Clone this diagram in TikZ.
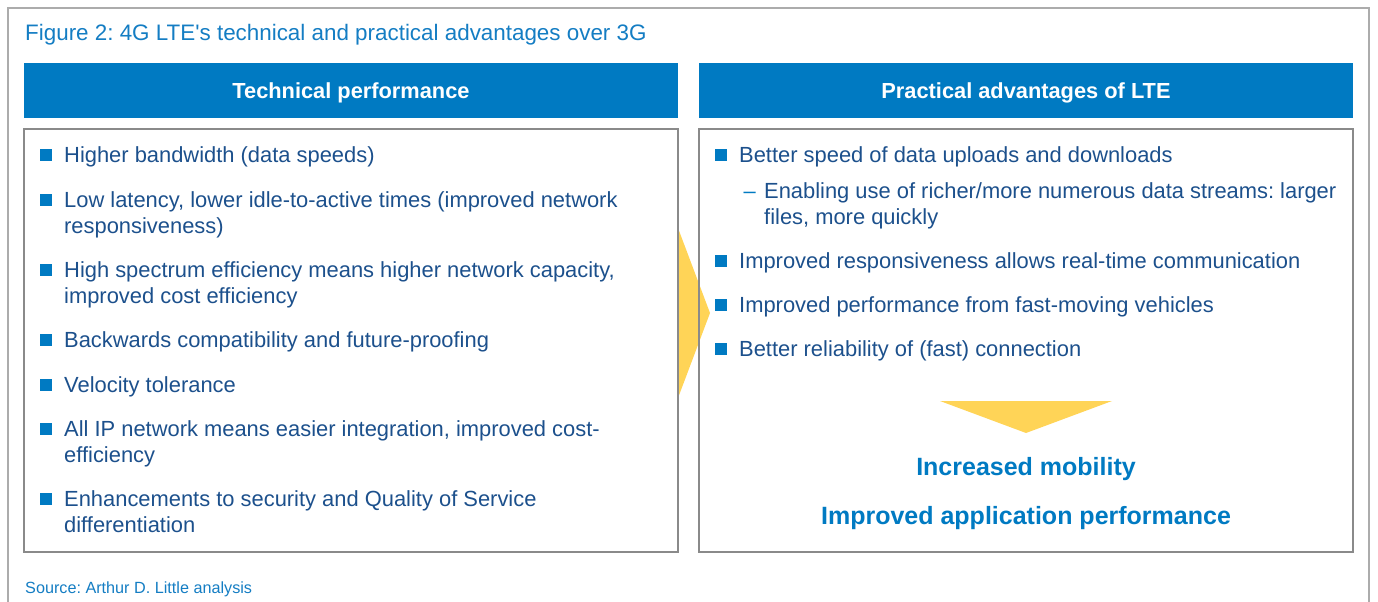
\documentclass[tikz,border=0pt]{standalone}
\usepackage{fontspec}
\setmainfont{Liberation Sans}
\newfontfamily\adlfont{Liberation Sans}
\usetikzlibrary{positioning}
\definecolor{adlblue}{RGB}{0,122,194}
\definecolor{titleblue}{RGB}{20,125,195}
\definecolor{adltext}{RGB}{28,80,140}
\definecolor{adlyellow}{RGB}{255,212,87}
\definecolor{framegray}{RGB}{172,172,172}
\definecolor{boxgray}{RGB}{138,138,138}
\tikzset{
  header/.style={fill=adlblue, text=white, inner sep=0pt, minimum width=654pt, minimum height=55pt,
    text height=15.5pt, text depth=0pt, font=\adlfont\fontsize{21.8}{24}\selectfont\bfseries},
  panel/.style={draw=boxgray, line width=1.6pt, minimum width=654pt, minimum height=423pt, inner sep=0pt},
  item/.style={anchor=north west, inner sep=0pt, text=adltext, align=left,
    font=\adlfont\fontsize{21.9}{26}\selectfont},
  bullet/.style={fill=adlblue, inner sep=0pt, minimum size=11.5pt},
  result/.style={anchor=base, text=adlblue, inner sep=0pt, font=\adlfont\fontsize{25}{28}\selectfont\bfseries},
}
\begin{document}
\frenchspacing
\begin{tikzpicture}[x=1pt,y=-1pt]
  \useasboundingbox (0,0) rectangle (1378,602);
  % outer frame
  \draw[framegray, line width=2.6pt] (8,602) -- (8,8) -- (1369,8) -- (1369,602);

  \node[anchor=base west, inner sep=0pt, text=titleblue, font=\adlfont\fontsize{22.4}{24}\selectfont] (title) at (25,41)
    {Figure 2: 4G LTE's technical and practical advantages over 3G};

  % arrows
  \fill[adlyellow] (678,228) -- (710,313) -- (678,398) -- cycle;
  \fill[adlyellow] (940,401) -- (1112,401) -- (1026,433) -- cycle;

  % headers and panels
  \node[header] (lhead) at (351,90.5) {Technical performance};
  \node[header] (rhead) at (1026,90.5) {Practical advantages of LTE};
  \node[panel] (lbox) at (351,340.5) {};
  \node[panel] (rbox) at (1026,340.5) {};

  % technical performance
  \node[item] (l1) at (64,143.8) {\strut Higher bandwidth (data speeds)};
  \node[item] (l2) at (64,188.8) {\strut Low latency, lower idle-to-active times (improved network\\responsiveness)};
  \node[item] (l3) at (64,258.8) {\strut High spectrum efficiency means higher network capacity,\\improved cost efficiency};
  \node[item] (l4) at (64,328.8) {\strut Backwards compatibility and future-proofing};
  \node[item] (l5) at (64,373.8) {\strut Velocity tolerance};
  \node[item] (l6) at (64,417.8) {\strut All IP network means easier integration, improved cost-\\efficiency};
  \node[item] (l7) at (64,487.8) {\strut Enhancements to security and Quality of Service\\differentiation};

  \node[bullet] (bl1) at ([xshift=-18pt,yshift=-11.2pt]l1.north west) {};
  \node[bullet] (bl2) at ([xshift=-18pt,yshift=-11.2pt]l2.north west) {};
  \node[bullet] (bl3) at ([xshift=-18pt,yshift=-11.2pt]l3.north west) {};
  \node[bullet] (bl4) at ([xshift=-18pt,yshift=-11.2pt]l4.north west) {};
  \node[bullet] (bl5) at ([xshift=-18pt,yshift=-11.2pt]l5.north west) {};
  \node[bullet] (bl6) at ([xshift=-18pt,yshift=-11.2pt]l6.north west) {};
  \node[bullet] (bl7) at ([xshift=-18pt,yshift=-11.2pt]l7.north west) {};

  % practical advantages
  \node[item] (r1) at (739,143.8) {\strut Better speed of data uploads and downloads};
  \node[item] (r1a) at (764,179.8) {\strut Enabling use of richer/more numerous data streams: larger\\files, more quickly};
  \node[item] (r2) at (739,249.8) {\strut Improved responsiveness allows real-time communication};
  \node[item] (r3) at (739,293.8) {\strut Improved performance from fast-moving vehicles};
  \node[item] (r4) at (739,337.8) {\strut Better reliability of (fast) connection};

  \node[item, anchor=north east, text=adlblue] (d1) at ([xshift=-8pt]r1a.north west) {\strut –};
  \node[bullet] (br1) at ([xshift=-18pt,yshift=-11.2pt]r1.north west) {};
  \node[bullet] (br2) at ([xshift=-18pt,yshift=-11.2pt]r2.north west) {};
  \node[bullet] (br3) at ([xshift=-18pt,yshift=-11.2pt]r3.north west) {};
  \node[bullet] (br4) at ([xshift=-18pt,yshift=-11.2pt]r4.north west) {};

  \node[result] (mobility) at (1026,475.5) {Increased mobility};
  \node[result] (perf) at (1026,524.5) {Improved application performance};

  \node[anchor=base west, inner sep=0pt, text=titleblue, font=\adlfont\fontsize{16.2}{18}\selectfont] (source) at (25,593)
    {Source: Arthur D. Little analysis};
\end{tikzpicture}
\end{document}
